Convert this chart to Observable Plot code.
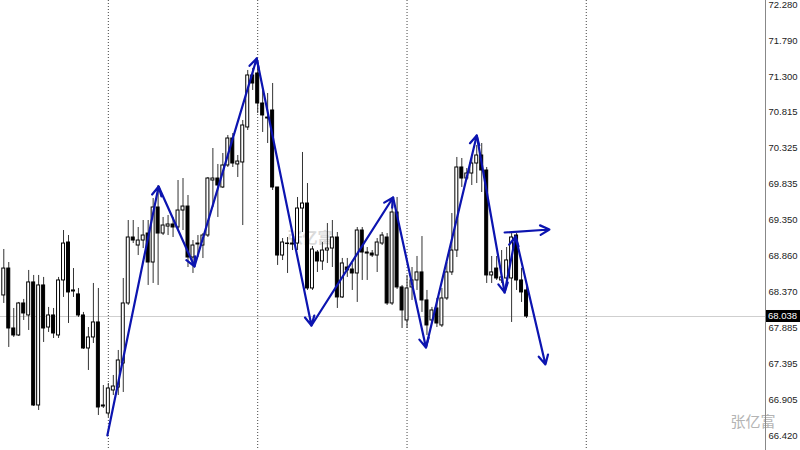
<!DOCTYPE html>
<html><head><meta charset="utf-8">
<script src="https://cdn.jsdelivr.net/npm/d3@7"></script>
<script src="https://cdn.jsdelivr.net/npm/@observablehq/plot@0.6"></script>
<style>body{margin:0;background:#fff;} #chart{width:800px;height:450px;}</style>
</head><body><div id="chart"></div>
<script>
// OHLC per bar (bar index = position in array)
const open = [68.324,68.690,67.875,67.780,68.215,68.052,68.501,66.828,68.460,67.888,68.052,67.780,68.528,69.044,68.378,68.338,68.052,67.603,67.753,67.957,66.814,66.719,67.032,67.072,67.399,68.215,69.112,69.003,69.071,69.166,68.772,69.520,69.166,69.261,69.289,69.248,69.479,69.533,68.840,69.030,69.003,69.139,69.887,69.914,69.792,70.091,70.458,70.105,70.132,70.608,71.315,71.342,70.934,70.743,70.839,69.792,68.867,69.030,69.030,69.030,69.506,69.574,68.419,68.908,68.786,68.935,68.962,69.112,68.297,68.704,68.677,68.623,69.207,68.908,68.894,68.867,69.030,69.112,68.215,69.452,68.433,67.984,68.433,68.528,68.637,68.256,67.984,68.147,67.916,68.283,68.637,68.935,70.064,69.914,69.982,70.118,70.227,70.023,68.596,68.690,68.528,68.555,68.555,69.139,68.528,68.392];
const close = [68.690,67.875,67.780,68.215,68.079,68.501,66.828,68.460,67.875,68.052,67.807,68.528,69.030,68.365,68.392,68.052,67.603,67.753,67.957,66.801,66.828,67.059,67.086,67.440,68.215,69.112,69.071,69.071,69.139,68.772,69.520,69.166,69.275,69.289,69.248,69.479,69.533,68.840,69.003,69.017,69.139,69.914,69.914,69.819,70.091,70.458,70.118,70.145,70.635,71.315,71.206,70.934,70.771,70.730,69.792,68.867,69.044,69.023,69.017,69.506,69.574,68.419,68.949,68.786,68.935,68.962,69.112,68.297,68.759,68.664,68.623,69.207,68.908,68.894,68.867,69.044,69.139,68.215,69.452,68.433,68.120,68.419,68.528,68.637,68.256,67.916,68.120,67.943,68.283,68.637,68.935,70.064,69.914,69.982,70.118,70.227,70.023,68.596,68.637,68.555,68.569,68.800,69.112,68.528,68.365,68.038];
const high = [68.949,68.772,68.147,68.229,68.270,68.664,68.596,68.596,68.569,68.161,68.147,68.569,69.207,69.139,68.690,68.419,68.093,67.888,68.487,68.419,67.100,67.127,67.236,67.576,68.555,69.343,69.343,69.248,69.343,69.343,69.642,69.819,69.384,69.411,69.384,69.887,69.914,69.683,69.071,69.139,69.166,69.928,70.322,70.105,70.254,70.499,70.526,70.227,70.703,71.383,71.411,71.519,71.111,71.070,71.206,69.792,69.098,69.112,69.180,69.656,70.268,69.846,68.990,68.935,69.044,69.302,69.343,69.180,68.827,68.827,68.759,69.248,69.248,68.976,68.935,69.098,69.180,69.166,69.656,69.656,68.460,68.596,68.704,68.854,69.125,68.392,68.161,68.283,68.419,68.772,69.438,70.200,70.186,70.050,70.200,70.363,70.390,70.064,68.854,68.854,68.935,68.976,69.166,69.166,68.691,68.460];
const low = [68.215,67.617,67.753,67.766,67.984,67.848,66.814,66.760,67.685,67.821,67.739,67.739,68.297,67.943,68.297,68.025,67.590,67.304,67.671,66.692,66.787,66.665,66.964,66.964,67.005,68.188,69.030,68.867,68.962,68.460,68.487,68.460,69.139,69.139,69.112,69.207,69.207,68.704,68.623,68.840,68.826,69.112,69.520,69.384,69.778,70.064,70.064,69.928,69.275,70.567,71.111,70.798,70.540,70.390,69.751,68.732,68.799,68.623,68.935,68.935,69.180,68.392,68.392,68.636,68.664,68.759,68.704,68.147,68.283,68.569,68.392,68.229,68.528,68.528,68.840,68.636,69.003,68.188,68.188,68.406,67.875,67.875,68.256,68.392,68.093,67.780,67.957,67.888,67.888,68.256,68.596,68.840,69.792,69.887,69.819,69.846,69.724,68.487,68.487,68.528,68.487,68.487,67.957,68.392,68.229,68.011];

// price axis labels
const priceTicks = [72.280,71.790,71.300,70.815,70.325,69.835,69.350,68.860,68.370,67.885,67.395,66.905,66.420];
const lastPrice = 68.038;
// period separators (bar index)
const separators = [21, 51, 81, 117];
// hand-drawn zigzag (bar index, price)
const zigX = [20.8, 31.1, 38.3, 50.8, 61.8, 78.2, 84.8, 95.0, 100.6, 102.8, 108.8];
const zigY = [66.420, 69.805, 68.718, 71.546, 67.916, 69.656, 67.617, 70.499, 68.365, 69.125, 67.386];
const sideArrowX = [100.6, 109.6];
const sideArrowY = [69.180, 69.221];
const watermark = "张亿富";

const bars = open.map((o, i) => ({i, o, c: close[i], h: high[i], l: low[i]}));
const segs = zigX.slice(1).map((x, k) => ({x1: zigX[k], y1: zigY[k], x2: x, y2: zigY[k + 1]}));
segs.push({x1: sideArrowX[0], y1: sideArrowY[0], x2: sideArrowX[1], y2: sideArrowY[1]});

const xDomain = [-0.66, 153.0];
const blue = "#0c14b0";
const font = "'Liberation Sans', Arial, sans-serif";

const chart = Plot.plot({
  width: 800, height: 450,
  marginLeft: 0, marginRight: 35, marginTop: 0, marginBottom: 0,
  x: {domain: xDomain, axis: null},
  y: {domain: [66.42, 72.28], range: [435, 4], axis: null},
  style: {fontFamily: font, fontSize: "9.5px", background: "white"},
  marks: [
    Plot.text([watermark], {frameAnchor: "top-left", dx: 287, dy: 232, text: d => d, textAnchor: "start", fill: "#dadada", fontSize: 15, fontWeight: "bold", fontFamily: "'Noto Sans CJK SC'"}),
    Plot.text([watermark], {frameAnchor: "top-left", dx: 730, dy: 416, text: d => d, textAnchor: "start", fill: "#b4b4b4", fontSize: 15, fontFamily: "'Noto Sans CJK SC'"}),
    Plot.ruleX(separators, {stroke: "#444", strokeDasharray: "1,2", strokeWidth: 1}),
    Plot.ruleY([lastPrice], {stroke: "#cfcfcf", strokeWidth: 1}),
    Plot.ruleX(bars, {x: "i", y1: "l", y2: "h", stroke: "#333", strokeWidth: 1}),
    Plot.rect(bars, {
      x1: d => d.i - 0.3, x2: d => d.i + 0.3,
      y1: "o", y2: "c",
      fill: d => d.c >= d.o ? "white" : "black",
      stroke: "black", strokeWidth: 1
    }),
    Plot.arrow(segs, {x1: "x1", y1: "y1", x2: "x2", y2: "y2", stroke: blue, strokeWidth: 2.2, headLength: 7, headAngle: 55}),
    Plot.ruleX([xDomain[1]], {stroke: "#888", strokeWidth: 1}),
    Plot.axisY(priceTicks, {anchor: "right", tickSize: 0, tickPadding: 3, tickFormat: d3.format(".3f"), label: null, fill: "#222"})
  ]
});

document.getElementById("chart").appendChild(chart);

// current price badge on the price axis
const svg = d3.select(chart);
const yPos = chart.scale("y").apply(lastPrice);
const xPos = chart.scale("x").apply(xDomain[1]);
const g = svg.append("g");
g.append("rect").attr("x", xPos + 1).attr("y", yPos - 6).attr("width", 800 - xPos - 1).attr("height", 12).attr("fill", "black");
g.append("text").attr("x", xPos + 3).attr("y", yPos + 3.5).attr("fill", "white").attr("text-anchor", "start")
  .attr("font-size", "9.5px").attr("font-family", font).text(d3.format(".3f")(lastPrice));
</script>
</body></html>
